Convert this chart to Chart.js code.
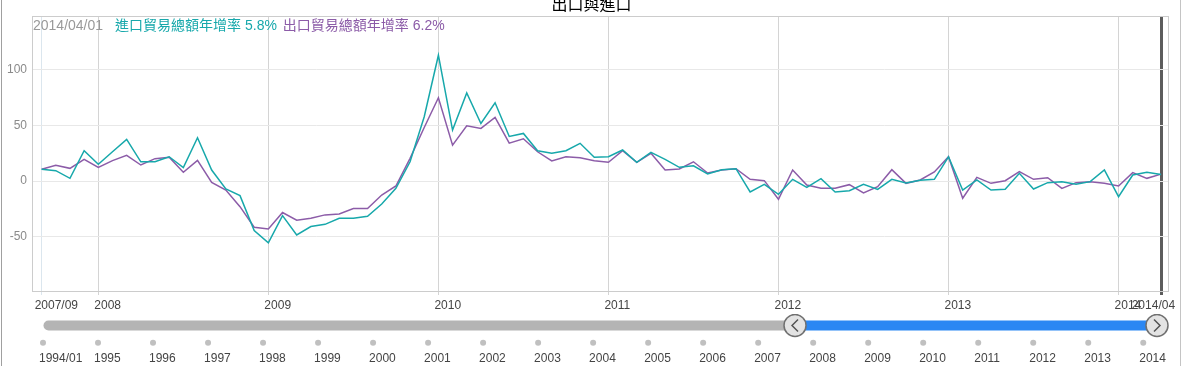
<!DOCTYPE html>
<html>
<head>
<meta charset="utf-8">
<script src="https://cdn.jsdelivr.net/npm/chart.js@4.4.1/dist/chart.umd.min.js"></script>
<style>
  body { margin: 0; background: #fff; }
  #wrap { position: relative; width: 1183px; height: 366px; overflow: hidden; }
  #main { position: absolute; left: 0; top: 0; }
  #nav { position: absolute; left: 0; top: 314px; }
  .edge { position: absolute; top: 0; width: 1px; height: 366px; }
</style>
</head>
<body>
<div id="wrap">
  <canvas id="main" width="1183" height="314"></canvas>
  <canvas id="nav" width="1183" height="52"></canvas>
  <div class="edge" style="left:1px;background:#a0a0a0"></div>
  <div class="edge" style="left:1180px;background:#c4c4c4"></div>
</div>
<script>
const title = '出口與進口';
const lastDate = '2014/04/01';
const importName = '進口貿易總額年增率';
const exportName = '出口貿易總額年增率';

// monthly, 2007/09 .. 2014/04 (yoy %)
const importGrowth = [
  10.5, 9.3, 2.4, 27.2, 15.0, 26.3, 37.5, 17.3, 17.3, 21.8, 12.0, 38.9,
  9.9, -7.2, -13.2, -44.6, -55.7, -31.2, -48.5, -41.0, -39.0, -33.5, -33.5, -31.7,
  -20.7, -6.6, 17.3, 57.8, 113.2, 45.8, 79.3, 51.8, 70.4, 40.1, 42.8, 27.2,
  24.9, 27.2, 33.9, 21.3, 21.8, 27.9, 16.8, 25.8, 19.5, 12.3, 13.7, 6.3,
  10.2, 11.1, -9.9, -3.0, -12.0, 1.5, -5.7, 2.1, -9.9, -8.7, -3.0, -7.5,
  1.5, -1.8, 0.6, 1.5, 21.8, -8.1, 0.9, -8.1, -7.5, 6.9, -7.2, -1.5,
  -0.6, -3.0, -0.6, 9.9, -14.1, 5.4, 7.8, 5.8
];
const exportGrowth = [
  10.5, 14.1, 11.4, 19.5, 12.3, 18.3, 23.1, 14.4, 20.1, 21.3, 7.8, 18.6,
  -1.2, -8.1, -23.1, -41.6, -43.2, -28.4, -35.3, -33.5, -30.5, -29.6, -24.8, -24.8,
  -12.6, -4.5, 20.4, 48.2, 74.9, 32.3, 49.7, 47.3, 57.2, 34.1, 38.0, 26.3,
  18.0, 21.8, 20.9, 18.2, 16.8, 27.2, 16.8, 24.9, 9.9, 10.8, 17.3, 7.2,
  9.9, 11.1, 1.5, 0.3, -16.4, 9.9, -3.6, -6.6, -6.6, -3.3, -10.8, -5.1,
  10.2, -2.1, 0.9, 8.2, 21.8, -15.5, 3.3, -2.1, 0.3, 8.4, 1.5, 3.0,
  -6.6, -1.5, -0.6, -2.1, -4.5, 7.5, 2.4, 6.2
];

const xTickIndex = [0, 4, 16, 28, 40, 52, 64, 76, 79];
const xTickLabels = ['2007/09', '2008', '2009', '2010', '2011', '2012', '2013', '2014', '2014/04'];
const yTicks = [-50, 0, 50, 100];

const navYears = [1994, 1995, 1996, 1997, 1998, 1999, 2000, 2001, 2002, 2003, 2004,
  2005, 2006, 2007, 2008, 2009, 2010, 2011, 2012, 2013, 2014];
const navLabels = ['1994/01', '1995', '1996', '1997', '1998', '1999', '2000', '2001', '2002', '2003', '2004',
  '2005', '2006', '2007', '2008', '2009', '2010', '2011', '2012', '2013', '2014'];
const navStart = 1994.1;
const rangeStart = 2007.67;
const rangeEnd = 2014.25;

const TEAL = '#17a8ab';
const PURPLE = '#8c5ca8';
const FONT = '"Liberation Sans", Arial, "Noto Sans CJK TC", sans-serif';
const cursorIndex = importGrowth.length - 1;

function toPoints(values) {
  return values.map((v, i) => ({x: i, y: v}));
}

// frame, axis labels, header readout and title
const mainDecor = {
  id: 'mainDecor',
  afterDraw(chart) {
    const {ctx, chartArea: a, scales: {x, y}} = chart;
    ctx.save();
    ctx.strokeStyle = '#cccccc';
    ctx.lineWidth = 1;
    ctx.strokeRect(a.left + 0.5, a.top + 0.5, a.right - a.left - 1, a.bottom - a.top);

    ctx.font = '12px ' + FONT;
    ctx.textBaseline = 'middle';
    ctx.fillStyle = '#8a8a8a';
    ctx.textAlign = 'right';
    yTicks.forEach(v => ctx.fillText(String(v), a.left - 5, y.getPixelForValue(v)));

    ctx.fillStyle = '#444444';
    xTickIndex.forEach((idx, k) => {
      const px = x.getPixelForValue(idx);
      if (k === xTickIndex.length - 1) {
        ctx.textAlign = 'right';
        ctx.fillText(xTickLabels[k], px + 14, a.bottom + 15);
      } else {
        ctx.textAlign = 'left';
        ctx.fillText(xTickLabels[k], px - (k === 0 ? 7 : 4), a.bottom + 15);
      }
    });

    // readout of the hovered month
    ctx.font = '14px ' + FONT;
    ctx.textAlign = 'left';
    const ty = a.top + 10;
    let tx = a.left + 1;
    ctx.fillStyle = '#999999';
    ctx.fillText(lastDate, tx, ty);
    tx += ctx.measureText(lastDate).width + 12;
    const t1 = importName + ' ' + importGrowth[cursorIndex].toFixed(1) + '%';
    ctx.fillStyle = TEAL;
    ctx.fillText(t1, tx, ty);
    tx += ctx.measureText(t1).width + 6;
    ctx.fillStyle = PURPLE;
    ctx.fillText(exportName + ' ' + exportGrowth[cursorIndex].toFixed(1) + '%', tx, ty);

    ctx.font = '16px ' + FONT;
    ctx.fillStyle = '#000000';
    ctx.textAlign = 'center';
    ctx.fillText(title, chart.width / 2, 6);
    ctx.restore();
  }
};

new Chart(document.getElementById('main'), {
  type: 'line',
  data: {
    datasets: [
      {label: importName, data: toPoints(importGrowth), borderColor: TEAL, borderWidth: 1.5, pointRadius: 0, tension: 0},
      {label: exportName, data: toPoints(exportGrowth), borderColor: PURPLE, borderWidth: 1.5, pointRadius: 0, tension: 0}
    ]
  },
  options: {
    responsive: false,
    animation: false,
    devicePixelRatio: 1,
    events: [],
    layout: {autoPadding: false, padding: {left: 32, right: 14, top: 16, bottom: 19}},
    plugins: {legend: {display: false}, tooltip: {enabled: false}},
    scales: {
      x: {
        type: 'linear', min: -0.68, max: 79.56,
        afterBuildTicks: s => { s.ticks = xTickIndex.map(v => ({value: v})); },
        ticks: {display: false},
        border: {display: false},
        grid: {
          drawTicks: true, tickLength: 4,
          color: c => c.tick.value === 0 ? '#dbe6ee' : (c.tick.value === cursorIndex ? '#5c5c5c' : '#d4d4d4'),
          lineWidth: c => c.tick.value === cursorIndex ? 3 : 1
        }
      },
      y: {
        type: 'linear', min: -99, max: 148.5,
        afterBuildTicks: s => { s.ticks = yTicks.map(v => ({value: v})); },
        ticks: {display: false},
        border: {display: false},
        grid: {drawTicks: false, color: '#e8e8e8'}
      }
    }
  },
  plugins: [mainDecor]
});

// range navigator
const navDecor = {
  id: 'navDecor',
  afterDatasetsDraw(chart) {
    const {ctx, scales: {x, y}} = chart;
    ctx.save();
    ctx.strokeStyle = '#555555';
    ctx.lineWidth = 1.5;
    const cy = y.getPixelForValue(1);
    const lx = x.getPixelForValue(rangeStart);
    const rx = x.getPixelForValue(rangeEnd);
    ctx.beginPath();
    ctx.moveTo(lx + 3, cy - 6); ctx.lineTo(lx - 3, cy); ctx.lineTo(lx + 3, cy + 6);
    ctx.moveTo(rx - 3, cy - 6); ctx.lineTo(rx + 3, cy); ctx.lineTo(rx - 3, cy + 6);
    ctx.stroke();

    ctx.font = '12px ' + FONT;
    ctx.fillStyle = '#444444';
    ctx.textAlign = 'left';
    ctx.textBaseline = 'middle';
    navYears.forEach((yr, k) => ctx.fillText(navLabels[k], x.getPixelForValue(yr) - 4, 45));
    ctx.restore();
  }
};

new Chart(document.getElementById('nav'), {
  type: 'line',
  data: {
    datasets: [
      {data: [{x: rangeStart, y: 1}, {x: rangeEnd, y: 1}], showLine: false, clip: false,
       pointRadius: 11, pointBackgroundColor: '#e3e3e3', pointBorderColor: '#707070', pointBorderWidth: 1.5},
      {data: [{x: rangeStart, y: 1}, {x: rangeEnd, y: 1}], clip: false,
       borderColor: '#2b87f3', borderWidth: 10, pointRadius: 0, borderCapStyle: 'butt'},
      {data: [{x: navStart, y: 1}, {x: rangeStart, y: 1}], clip: false,
       borderColor: '#b4b4b4', borderWidth: 10, pointRadius: 0, borderCapStyle: 'round'},
      {data: navYears.map(yr => ({x: yr, y: 0})), showLine: false, clip: false,
       pointRadius: 3, pointBackgroundColor: '#c0c0c0', pointBorderWidth: 0}
    ]
  },
  options: {
    responsive: false,
    animation: false,
    devicePixelRatio: 1,
    events: [],
    layout: {autoPadding: false, padding: {left: 43, right: 26, top: 0, bottom: 0}},
    plugins: {legend: {display: false}, tooltip: {enabled: false}},
    scales: {
      x: {type: 'linear', display: false, min: 1994, max: rangeEnd},
      y: {type: 'linear', display: false, min: -1.355, max: 1.669}
    }
  },
  plugins: [navDecor]
});
</script>
</body>
</html>
